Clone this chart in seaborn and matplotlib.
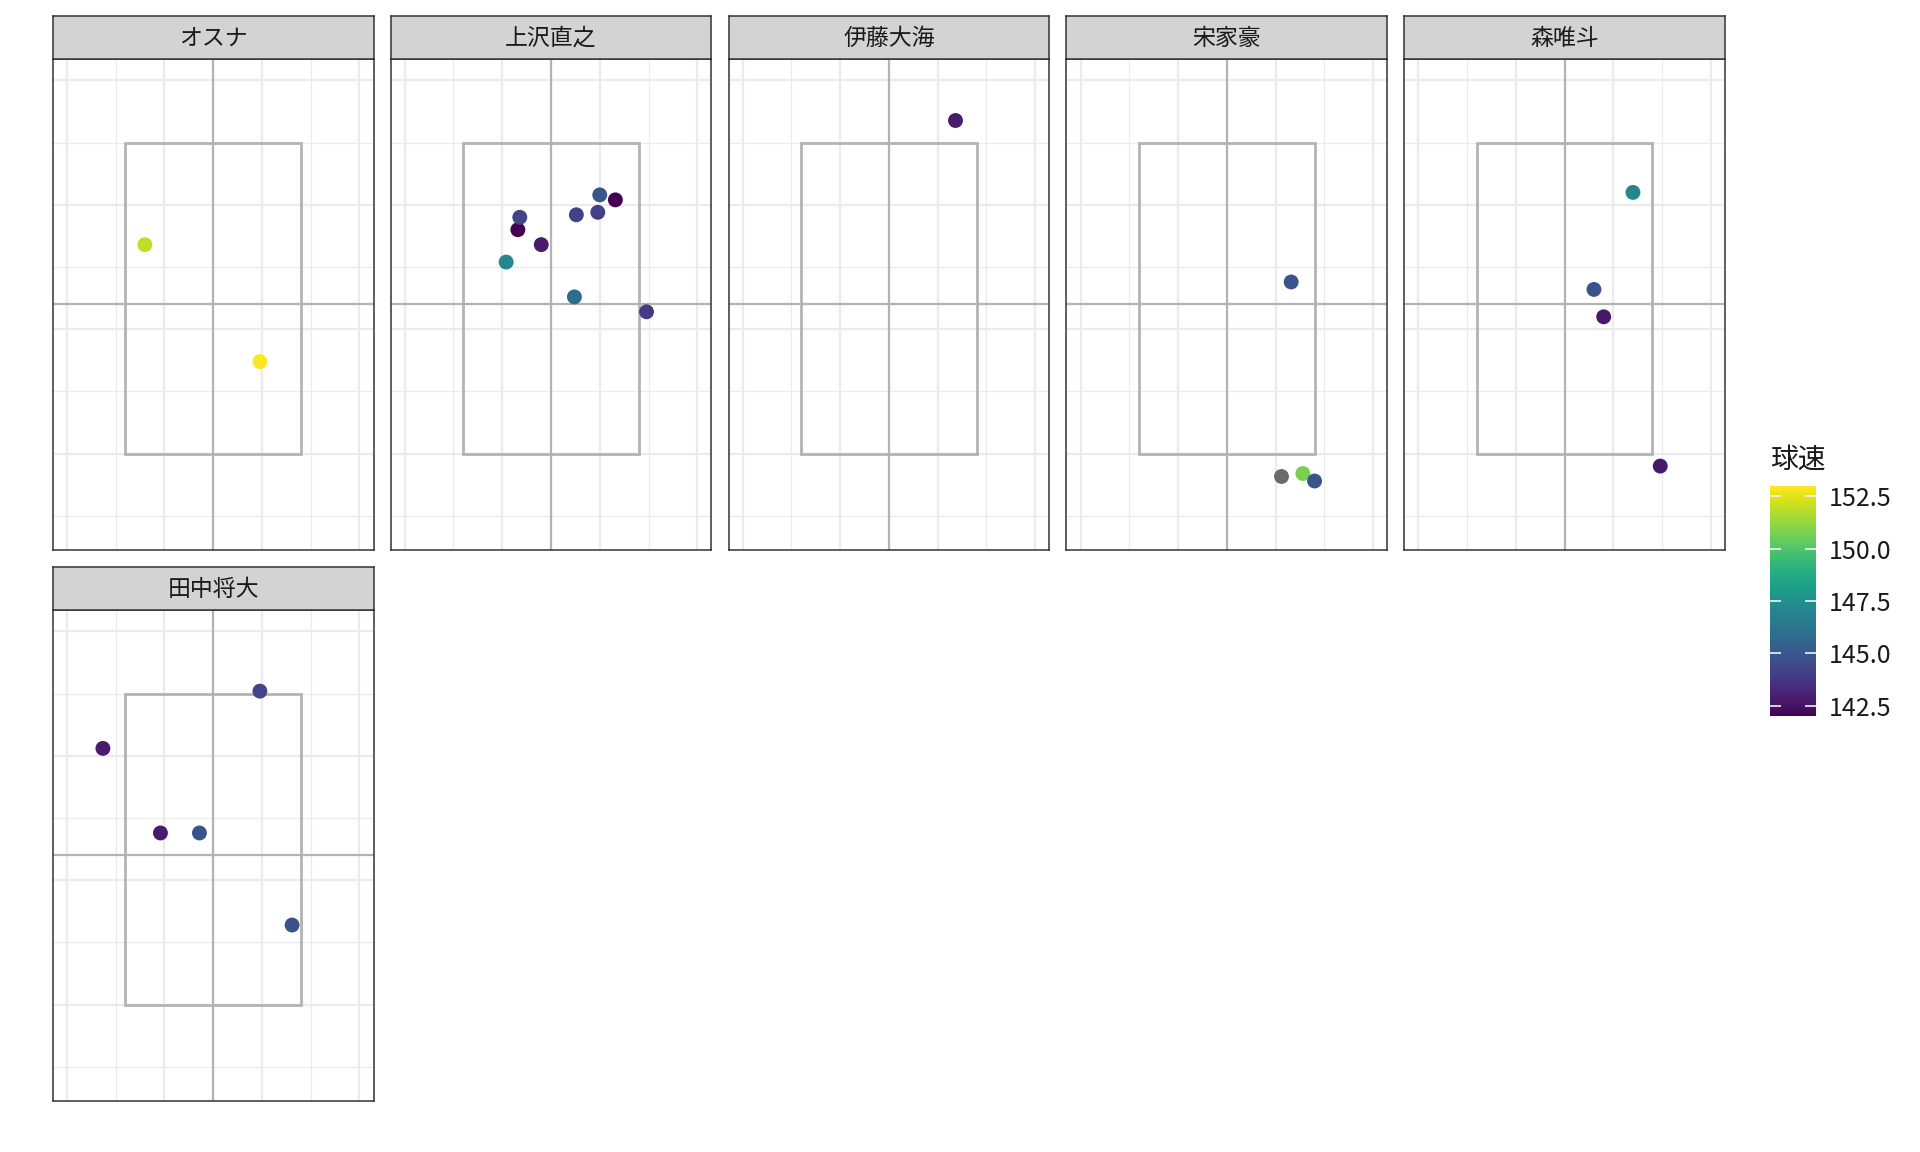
import numpy as np
import pandas as pd
import matplotlib
matplotlib.use('Agg')
import matplotlib.pyplot as plt
from matplotlib.patches import Rectangle
from matplotlib.colors import Normalize
from matplotlib.cm import ScalarMappable
import seaborn as sns

# pitchers, in facet order
pitchers = ['オスナ', '上沢直之', '伊藤大海', '宋家豪', '森唯斗', '田中将大']

# one entry per pitch
pitch_pitcher = (['オスナ'] * 2 + ['上沢直之'] * 10 + ['伊藤大海'] +
                 ['宋家豪'] * 4 + ['森唯斗'] * 4 + ['田中将大'] * 5)
plate_x = [-0.70, 0.48,
           0.50, 0.66, 0.48, 0.26, -0.34, -0.32, -0.10, -0.46, 0.24, 0.98,
           0.68,
           0.66, 0.56, 0.78, 0.90,
           0.70, 0.30, 0.40, 0.98,
           0.48, -1.13, -0.54, -0.14, 0.81]
plate_z = [2.68, 1.74,
           3.08, 3.04, 2.94, 2.92, 2.80, 2.90, 2.68, 2.54, 2.26, 2.14,
           3.68,
           2.38, 0.82, 0.84, 0.78,
           3.10, 2.32, 2.10, 0.90,
           3.52, 3.06, 2.38, 2.38, 1.64]
speed = [151.9, 153.0,
         144.9, 142.0, 144.1, 144.1, 142.0, 144.2, 142.8, 147.1, 145.9, 143.9,
         142.8,
         144.8, np.nan, 150.8, 144.8,
         147.1, 144.8, 142.7, 142.7,
         144.2, 142.8, 142.8, 144.8, 144.8]

# strike zone and plot window
zone_x = [-0.9, 0.9]
zone_z = [1.0, 3.5]
x_lim = [-1.645, 1.645]
z_lim = [0.227, 4.174]
speed_lim = [142.0, 153.0]
cbar_ticks = [142.5, 145.0, 147.5, 150.0, 152.5]

df = pd.DataFrame({'pitcher': pitch_pitcher, 'plate_x': plate_x,
                   'plate_z': plate_z, '球速': speed})

sns.set_style('white')
plt.rcParams['font.family'] = ['Noto Sans CJK JP', 'DejaVu Sans']

W, H = 1920, 1152
fig = plt.figure(figsize=(W / 100, H / 100), dpi=100)

pw, ph, sh = 320.8, 491.0, 42.9
for k, name in enumerate(pitchers):
    row, col = divmod(k, 5)
    left = 52.7 + col * 337.9
    top = 58.8 + row * 551.0
    ax = fig.add_axes([left / W, 1 - (top + ph) / H, pw / W, ph / H])
    strip = fig.add_axes([left / W, 1 - top / H, pw / W, sh / H])

    # grid
    ax.set_xticks([-1.5, -0.5, 0.5, 1.5])
    ax.set_xticks([-1.0, 0.0, 1.0], minor=True)
    ax.set_yticks([1, 2, 3, 4])
    ax.set_yticks([0.5, 1.5, 2.5, 3.5], minor=True)
    ax.grid(which='major', color='#ebebeb', lw=1.6)
    ax.grid(which='minor', color='#ebebeb', lw=0.9)
    ax.set_axisbelow(True)
    ax.tick_params(which='both', length=0, labelbottom=False, labelleft=False)

    # strike zone + crosshair
    ax.add_patch(Rectangle((zone_x[0], zone_z[0]), zone_x[1] - zone_x[0],
                           zone_z[1] - zone_z[0], fill=False, ec='#b3b3b3',
                           lw=2.0, zorder=2))
    ax.axvline(0, color='#b3b3b3', lw=1.6, zorder=1.5)
    ax.axhline(sum(z_lim) / 2, color='#b3b3b3', lw=1.6, zorder=1.5)

    sub = df[df['pitcher'] == name]
    na = sub[sub['球速'].isna()]
    if len(na):
        ax.scatter(na['plate_x'], na['plate_z'], s=115, color='#6b6b6b',
                   linewidths=0, zorder=3)
    sns.scatterplot(data=sub[sub['球速'].notna()], x='plate_x', y='plate_z',
                    hue='球速', palette='viridis', hue_norm=tuple(speed_lim),
                    s=115, linewidth=0, legend=False, ax=ax, zorder=3)
    ax.set_xlim(x_lim)
    ax.set_ylim(z_lim)
    ax.set_xlabel('')
    ax.set_ylabel('')
    for sp in ax.spines.values():
        sp.set_visible(True)
        sp.set_color('#333333')
        sp.set_linewidth(1.1)

    strip.set_facecolor('#d3d3d3')
    strip.set_xticks([])
    strip.set_yticks([])
    for sp in strip.spines.values():
        sp.set_visible(True)
        sp.set_color('#333333')
        sp.set_linewidth(1.1)
    strip.text(0.5, 0.47, name, ha='center', va='center', fontsize=16.5,
               color='#1a1a1a', transform=strip.transAxes)

# colour bar
cax = fig.add_axes([1770 / W, 1 - 716 / H, 46 / W, 230 / H])
sm = ScalarMappable(norm=Normalize(*speed_lim), cmap='viridis')
cb = fig.colorbar(sm, cax=cax)
cb.set_ticks(cbar_ticks)
cb.set_ticklabels([f'{t:.1f}' for t in cbar_ticks])
cb.outline.set_visible(False)
cax.set_axisbelow(False)  # seaborn style pushes ticks under the colour image
cax.tick_params(axis='y', direction='in', left=True, right=True, length=8,
                width=1.2, color='#f2f2f2', labelcolor='#1a1a1a', labelsize=18,
                pad=9)
fig.text(1770 / W, 1 - 460 / H, '球速', fontsize=20, va='center', ha='left',
         color='#1a1a1a')

fig.savefig('out.png', dpi=100)
